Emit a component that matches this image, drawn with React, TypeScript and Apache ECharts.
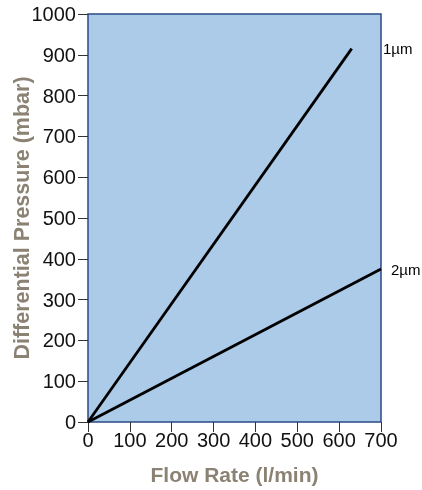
import React, { useEffect, useRef } from "react";
import * as echarts from "echarts";

const xTicks = [0, 100, 200, 300, 400, 500, 600, 700];
const flow1 = [0, 630];
const dp1 = [0, 915];
const flow2 = [0, 700];
const dp2 = [0, 375];
const seriesNames = ["1µm", "2µm"];

export default function App() {
  const ref = useRef<HTMLDivElement>(null);
  useEffect(() => {
    if (!ref.current) return;
    const chart = echarts.init(ref.current, null, { renderer: "svg" });
    const font = "Liberation Sans, Arial, sans-serif";
    const nameColor = "#8b8273";
    chart.setOption({
      animation: false,
      grid: {
        show: true,
        left: 88,
        right: 41,
        top: 14,
        bottom: 68,
        containLabel: false,
        outerBoundsMode: "none",
        backgroundColor: "#abcbe9",
        borderColor: "#2b4a86",
        borderWidth: 1.5,
      },
      xAxis: {
        type: "value",
        min: xTicks[0],
        max: xTicks[xTicks.length - 1],
        interval: 100,
        name: "Flow Rate (l/min)",
        nameLocation: "middle",
        nameGap: 42,
        nameMoveOverlap: false,
        nameTextStyle: { fontFamily: font, fontSize: 21, fontWeight: "bold", color: nameColor },
        axisLine: { show: false },
        axisTick: { show: true, length: 10, lineStyle: { color: "#333", width: 1 } },
        axisLabel: { fontFamily: font, fontSize: 20, color: "#111", margin: 8, formatter: (v: number) => String(v) },
        splitLine: { show: false },
      },
      yAxis: {
        type: "value",
        min: 0,
        max: 1000,
        interval: 100,
        name: "Differential Pressure (mbar)",
        nameLocation: "middle",
        nameGap: 55,
        nameMoveOverlap: false,
        nameTextStyle: { fontFamily: font, fontSize: 21.5, fontWeight: "bold", color: nameColor },
        axisLine: { show: false },
        axisTick: { show: true, length: 10, lineStyle: { color: "#333", width: 1 } },
        axisLabel: { fontFamily: font, fontSize: 20, color: "#111", margin: 12, formatter: (v: number) => String(v) },
        splitLine: { show: false },
      },
      series: [
        {
          name: seriesNames[0],
          type: "line",
          data: flow1.map((x, i) => [x, dp1[i]]),
          showSymbol: false,
          lineStyle: { color: "#000", width: 2.8 },
          markPoint: {
            symbol: "circle",
            symbolSize: 0,
            data: [{ coord: [xTicks[xTicks.length - 1], dp1[1]], value: seriesNames[0] }],
            label: { show: true, position: "right", distance: 2, formatter: seriesNames[0], fontFamily: font, fontSize: 15, color: "#000" },
          },
        },
        {
          name: seriesNames[1],
          type: "line",
          data: flow2.map((x, i) => [x, dp2[i]]),
          showSymbol: false,
          lineStyle: { color: "#000", width: 2.8 },
          markPoint: {
            symbol: "circle",
            symbolSize: 0,
            data: [{ coord: [xTicks[xTicks.length - 1], dp2[1]], value: seriesNames[1] }],
            label: { show: true, position: "right", distance: 10, formatter: seriesNames[1], fontFamily: font, fontSize: 15, color: "#000" },
          },
        },
      ],
    });
    return () => chart.dispose();
  }, []);
  return <div ref={ref} style={{ position: "fixed", left: 0, top: 0, width: 422, height: 490 }} />;
}
